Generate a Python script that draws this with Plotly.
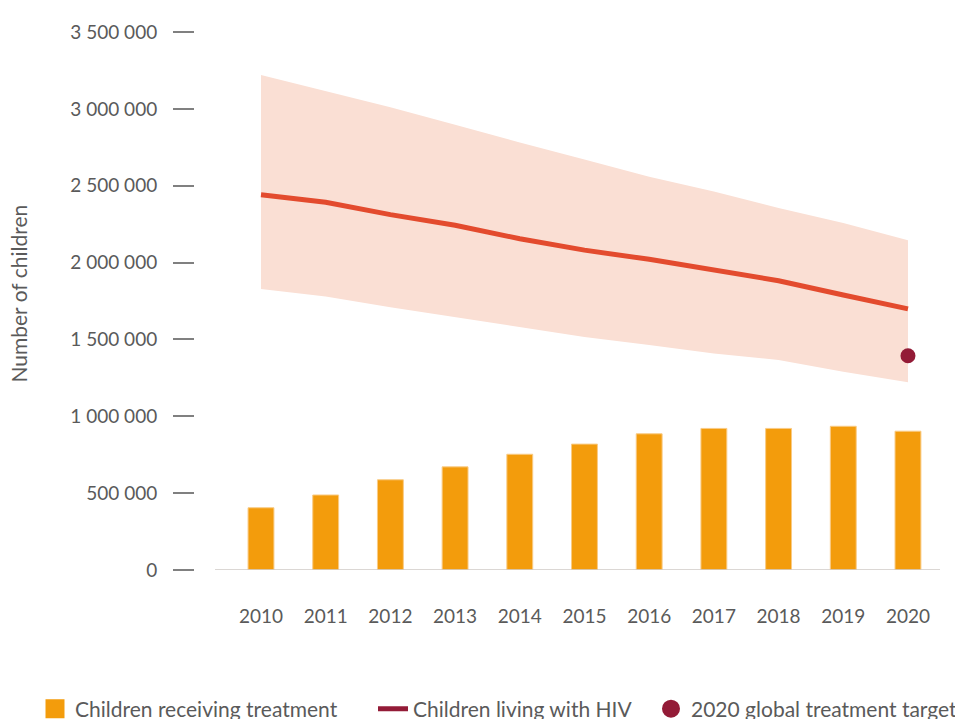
import plotly.graph_objects as go

years = [2010, 2011, 2012, 2013, 2014, 2015, 2016, 2017, 2018, 2019, 2020]
children_treatment = [405000, 488000, 587000, 671000, 753000, 819000, 886000, 921000, 921000, 935000, 903000]
children_hiv = [2441000, 2392000, 2312000, 2243000, 2155000, 2081000, 2021000, 1953000, 1882000, 1789000, 1699000]
hiv_upper = [3221000, 3118000, 3011000, 2897000, 2781000, 2671000, 2559000, 2463000, 2355000, 2258000, 2146000]
hiv_lower = [1828000, 1779000, 1710000, 1645000, 1581000, 1516000, 1463000, 1408000, 1366000, 1290000, 1221000]
target_year = [2020]
target_value = [1394000]

ytickvals = [0, 500000, 1000000, 1500000, 2000000, 2500000, 3000000, 3500000]
yticktext = ["0", "500 000", "1 000 000", "1 500 000", "2 000 000", "2 500 000", "3 000 000", "3 500 000"]

FONT = "Lato, 'Open Sans', sans-serif"
TXT = "#5a5a5a"
ORANGE = "#F39C0C"
RED = "#E34B2E"
BAND = "#FADFD4"
MAROON = "#931B37"

fig = go.Figure()

# uncertainty band
fig.add_trace(go.Scatter(x=years, y=hiv_upper, mode="lines", line=dict(width=0, color=BAND),
                         showlegend=False, hoverinfo="skip"))
fig.add_trace(go.Scatter(x=years, y=hiv_lower, mode="lines", line=dict(width=0, color=BAND),
                         fill="tonexty", fillcolor=BAND, showlegend=False, hoverinfo="skip"))

# bars
fig.add_trace(go.Bar(x=years, y=children_treatment, width=0.4,
                     marker=dict(color=ORANGE, line=dict(color="#F9CB85", width=1)), showlegend=False))

# HIV line
fig.add_trace(go.Scatter(x=years, y=children_hiv, mode="lines", line=dict(color=RED, width=5),
                         showlegend=False))

# target dot
fig.add_trace(go.Scatter(x=target_year, y=target_value, mode="markers",
                         marker=dict(color=MAROON, size=15), showlegend=False))

# legend entries
fig.add_trace(go.Scatter(x=[None], y=[None], mode="markers", name="Children receiving treatment",
                         marker=dict(symbol="square", color=ORANGE, size=16, line=dict(color=ORANGE, width=3)),
                         legend="legend"))
fig.add_trace(go.Scatter(x=[None], y=[None], mode="lines", name="Children living with HIV",
                         line=dict(color=MAROON, width=5), legend="legend2"))
fig.add_trace(go.Scatter(x=[None], y=[None], mode="markers", name="2020 global treatment target",
                         marker=dict(symbol="circle", color=MAROON, size=16, line=dict(color=MAROON, width=2)),
                         legend="legend3"))

OFF = 8  # page body margin
W, H = 963 - OFF, 719 - OFF
L_PX, R_PX = 195 - OFF, 940 - OFF
T_PX, B_PX = 27 - OFF, 570 - OFF
x_range = [2008.98, 2020.495]

def leg(xpx):
    return dict(x=(xpx - OFF) / W, xref="container", y=1 - (709 - OFF) / H, yref="container",
                xanchor="left", yanchor="middle",
                orientation="h", font=dict(family=FONT, size=21, color=TXT), bgcolor="rgba(0,0,0,0)",
                itemsizing="trace", borderwidth=0)

fig.update_layout(
    width=W, height=H,
    margin=dict(l=L_PX, r=W - R_PX, t=T_PX, b=H - B_PX),
    paper_bgcolor="white", plot_bgcolor="white",
    font=dict(family=FONT, size=19, color=TXT),
    showlegend=True,
    legend=leg(35), legend2=leg(373), legend3=leg(651),
    xaxis=dict(range=x_range, tickvals=years, ticktext=[str(y) for y in years], showgrid=False,
               zeroline=False, showline=False, ticks="", ticklabelstandoff=33,
               tickfont=dict(family=FONT, size=19, color=TXT)),
    yaxis=dict(range=[0, 3500000], tickvals=ytickvals, ticktext=yticktext, showgrid=False,
               zeroline=False, showline=False, ticks="outside", ticklen=21, tickwidth=1.5, tickcolor="#808080",
               ticklabelstandoff=12, tickfont=dict(family=FONT, size=19, color=TXT)),
    shapes=[dict(type="line", xref="x domain", yref="y", x0=20 / (R_PX - L_PX), x1=1, y0=0, y1=0,
                 line=dict(color="#CFCAC6", width=1.5))],
    annotations=[dict(text="Number of children", xref="paper", yref="paper",
                      x=(19 - 195) / (R_PX - L_PX), y=(570 - 291) / (B_PX - T_PX),
                      textangle=-90, showarrow=False, xanchor="center", yanchor="middle",
                      font=dict(family=FONT, size=21, color=TXT))],
)

fig.write_html("out.html")
